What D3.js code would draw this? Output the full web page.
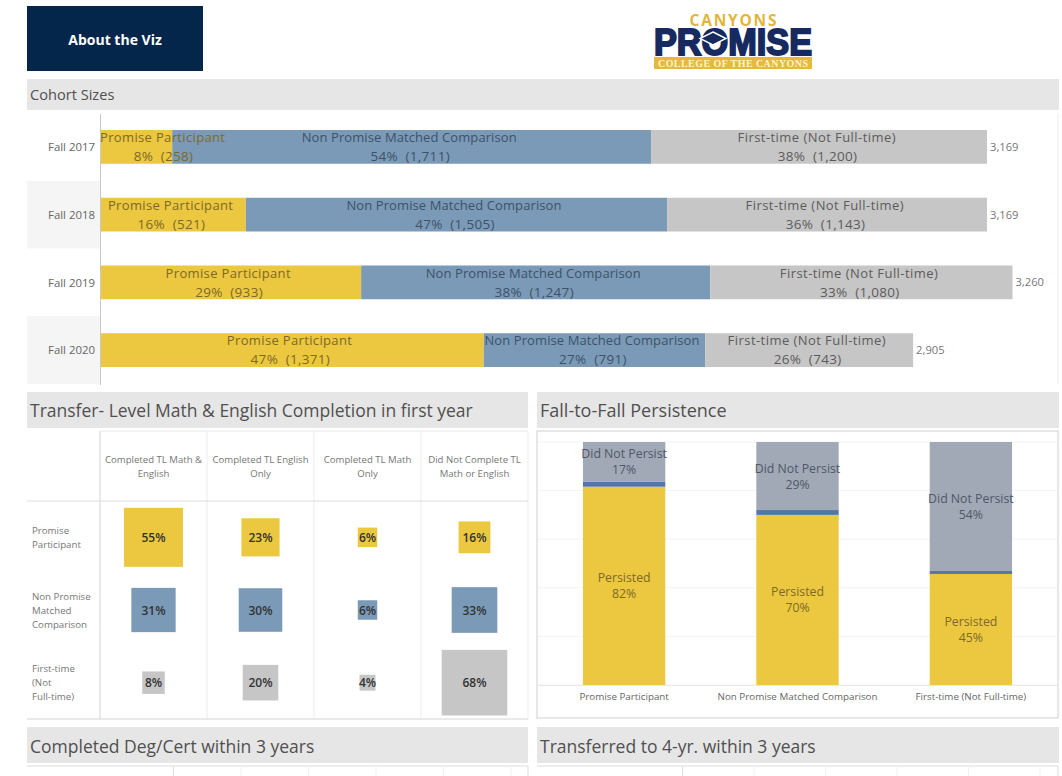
<!DOCTYPE html>
<html>
<head>
<meta charset="utf-8">
<script src="https://cdn.jsdelivr.net/npm/d3@7"></script>
<style>
html, body { margin: 0; padding: 0; background: #fff; overflow: hidden; }
svg { display: block; }
text { font-family: "Open Sans", sans-serif; white-space: pre; }
</style>
</head>
<body>
<svg id="viz" width="1062" height="776"></svg>
<script>
'use strict';

var cohortYears = ['Fall 2017', 'Fall 2018', 'Fall 2019', 'Fall 2020'];
var groups = ['Promise Participant', 'Non Promise Matched Comparison', 'First-time (Not Full-time)'];
var promiseCounts = [258, 521, 933, 1371];
var nonPromiseCounts = [1711, 1505, 1247, 791];
var firstTimeCounts = [1200, 1143, 1080, 743];
var promisePct = [8, 16, 29, 47];
var nonPromisePct = [54, 47, 38, 27];
var firstTimePct = [38, 36, 33, 26];

var tlCategories = [['Completed TL Math &', 'English'], ['Completed TL English', 'Only'], ['Completed TL Math', 'Only'], ['Did Not Complete TL', 'Math or English']];
var tlRowLabels = [['Promise', 'Participant'], ['Non Promise', 'Matched', 'Comparison'], ['First-time', '(Not', 'Full-time)']];
var tlPromise = [55, 23, 6, 16];
var tlNonPromise = [31, 30, 6, 33];
var tlFirstTime = [8, 20, 4, 68];

var persisted = [81.6, 70, 45.7];
var seam = [2, 2, 1.2];
var notPersisted = [16.4, 28, 53.1];
var persistedLabels = ['82%', '70%', '45%'];
var notPersistedLabels = ['17%', '29%', '54%'];
var persistTicks = [0, 20, 40, 60, 80, 100];

var YELLOW = '#ecc740', BLUE = '#7b9ab7', GRAY = '#c6c6c6', SLATE = '#a1a9b7', SEAM = '#5077a8';
var groupFill = [YELLOW, BLUE, GRAY];
var groupText = ['#7d6a25', '#3d5269', '#5c5c5c'];
var groupLabelWidth = [125, 215, 158];

var svg = d3.select('#viz');

function header(x, y, w, h, label, size, nudge) {
	svg.append('rect').attr('x', x).attr('y', y).attr('width', w).attr('height', h).attr('fill', '#e6e6e6');
	svg.append('text').attr('x', x + 3).attr('y', y + h / 2 + nudge).attr('dy', '0.36em')
		.attr('font-size', size).attr('fill', '#505050').text(label);
}

function frame(x, y, w, h, color) {
	svg.append('rect').attr('x', x).attr('y', y).attr('width', w).attr('height', h)
		.attr('fill', 'none').attr('stroke', color);
}

// top strip
svg.append('rect').attr('x', 27).attr('y', 6).attr('width', 176).attr('height', 65).attr('fill', '#03264a');
svg.append('text').attr('x', 115).attr('y', 40).attr('dy', '0.36em').attr('text-anchor', 'middle')
	.attr('font-size', 14).attr('font-weight', 700).attr('fill', '#fff').text('About the Viz');

// logo
var logo = svg.append('g');
logo.append('text').attr('x', 733).attr('y', 26).attr('text-anchor', 'middle').attr('font-size', 15.5)
	.attr('font-weight', 700).attr('fill', '#e2b63b').attr('textLength', 87).text('CANYONS');
logo.append('text').attr('x', 654).attr('y', 55).style('font-family', '"Liberation Sans"').attr('font-size', 37)
	.attr('font-weight', 700).attr('fill', '#172a5f').attr('stroke', '#172a5f').attr('stroke-width', 2)
	.attr('textLength', 158).attr('lengthAdjust', 'spacingAndGlyphs').text('PROMISE');
logo.append('polygon').attr('points', '713,32 726,38.5 713,45 700,38.5').attr('fill', '#172a5f').attr('stroke', '#fff').attr('stroke-width', 1.4);
logo.append('rect').attr('x', 654).attr('y', 57).attr('width', 158).attr('height', 12).attr('fill', '#e6b93c');
logo.append('text').attr('x', 733).attr('y', 66.5).attr('text-anchor', 'middle').style('font-family', '"Liberation Serif"')
	.attr('font-size', 10).attr('font-weight', 700).attr('fill', '#fdf3d0').attr('textLength', 150).text('COLLEGE OF THE CANYONS');

// cohort sizes
header(27, 79, 1032, 31, 'Cohort Sizes', 14.6, 0);

var cohortRows = cohortYears.map(function(year, i) {
	return {
		year: year,
		total: promiseCounts[i] + nonPromiseCounts[i] + firstTimeCounts[i],
		0: promiseCounts[i], 1: nonPromiseCounts[i], 2: firstTimeCounts[i],
		pct: [promisePct[i], nonPromisePct[i], firstTimePct[i]]
	};
});

var cohortX = d3.scaleLinear().domain([0, 3169]).range([100, 987]);
var cohortY = d3.scaleBand().domain(cohortYears).range([113, 384]).paddingInner(0);
var barInset = 17;
var cohortStack = d3.stack().keys([0, 1, 2])(cohortRows);

svg.selectAll('.rowShade').data(cohortYears.filter(function(d, i) { return i % 2 == 1; })).enter()
	.append('rect').attr('class', 'rowShade')
	.attr('x', 27).attr('width', 73)
	.attr('y', function(d) { return cohortY(d); })
	.attr('height', cohortY.bandwidth())
	.attr('fill', '#f5f5f5');

cohortStack.forEach(function(layer, g) {
	svg.selectAll('.seg' + g).data(layer).enter().append('rect').attr('class', 'seg' + g)
		.attr('x', function(d) { return cohortX(d[0]); })
		.attr('width', function(d) { return cohortX(d[1]) - cohortX(d[0]); })
		.attr('y', function(d) { return cohortY(d.data.year) + barInset; })
		.attr('height', cohortY.bandwidth() - barInset * 2)
		.attr('fill', groupFill[g]);
});

cohortStack.forEach(function(layer, g) {
	layer.forEach(function(d) {
		var mid = (cohortX(d[0]) + cohortX(d[1])) / 2;
		var cx = Math.max(mid - 2.5, cohortX(d[0]) + groupLabelWidth[g] / 2);
		var top = cohortY(d.data.year) + barInset;
		svg.append('text').attr('x', cx).attr('y', top + 12).attr('text-anchor', 'middle')
			.attr('font-size', 13).attr('fill', groupText[g]).attr('textLength', groupLabelWidth[g])
			.text(groups[g]);
		svg.append('text').attr('x', cx + 1).attr('y', top + 31).attr('text-anchor', 'middle')
			.attr('font-size', 13.5).attr('letter-spacing', 0.3).attr('fill', groupText[g])
			.text(d.data.pct[g] + '%  (' + d3.format(',')(d.data[g]) + ')');
	});
});

svg.selectAll('.total').data(cohortRows).enter().append('text').attr('class', 'total')
	.attr('x', function(d) { return cohortX(d.total) + 3; })
	.attr('y', function(d) { return cohortY(d.year) + cohortY.bandwidth() / 2; })
	.attr('dy', '0.36em').attr('font-size', 11.2).attr('fill', '#777')
	.text(function(d) { return d3.format(',')(d.total); });

var cohortAxis = svg.append('g').attr('transform', 'translate(100,0.5)')
	.call(d3.axisLeft(cohortY).tickSize(0).tickPadding(5));
cohortAxis.select('.domain').attr('stroke', '#c8c8c8');
cohortAxis.selectAll('text').attr('font-size', 11.4).attr('fill', '#666').style('font-family', '"Open Sans", sans-serif');

svg.append('line').attr('x1', 1058).attr('x2', 1058).attr('y1', 113).attr('y2', 384).attr('stroke', '#ececec');

// transfer level completion
header(27, 392, 501, 36, 'Transfer- Level Math & English Completion in first year', 17.5, 1);

var tlColumns = tlCategories.map(function(d) { return d.join(' '); });
var tlRowKeys = tlRowLabels.map(function(d) { return d.join(' '); });
var tlX = d3.scaleBand().domain(tlColumns).range([100, 528]);
var tlY = d3.scaleBand().domain(tlRowKeys).range([501, 719]);
var tlSize = d3.scaleSqrt().domain([0, 68]).range([0, 65.6]);
var tlCells = [];
[tlPromise, tlNonPromise, tlFirstTime].forEach(function(values, r) {
	values.forEach(function(v, c) {
		tlCells.push({ row: tlRowKeys[r], col: tlColumns[c], group: r, value: v });
	});
});

svg.append('g').selectAll('line').data(tlColumns.concat(['end'])).enter().append('line')
	.attr('x1', function(d, i) { return i < 4 ? tlX(d) : tlX.range()[1]; })
	.attr('x2', function(d, i) { return i < 4 ? tlX(d) : tlX.range()[1]; })
	.attr('y1', 431).attr('y2', 719)
	.attr('stroke', function(d, i) { return i == 0 ? '#d4d4d4' : '#ececec'; });
svg.append('line').attr('x1', 100).attr('x2', 528).attr('y1', 431).attr('y2', 431).attr('stroke', '#e8e8e8');
svg.append('line').attr('x1', 27).attr('x2', 528).attr('y1', 501).attr('y2', 501).attr('stroke', '#dcdcdc');
svg.append('line').attr('x1', 27).attr('x2', 528).attr('y1', 719).attr('y2', 719).attr('stroke', '#d4d4d4');

svg.selectAll('.tlCell').data(tlCells).enter().append('rect').attr('class', 'tlCell')
	.attr('x', function(d) { return tlX(d.col) + tlX.bandwidth() / 2 - tlSize(d.value) / 2; })
	.attr('y', function(d) { return tlY(d.row) + tlY.bandwidth() / 2 - tlSize(d.value) / 2; })
	.attr('width', function(d) { return tlSize(d.value); })
	.attr('height', function(d) { return tlSize(d.value); })
	.attr('fill', function(d) { return groupFill[d.group]; });

svg.selectAll('.tlValue').data(tlCells).enter().append('text').attr('class', 'tlValue')
	.attr('x', function(d) { return tlX(d.col) + tlX.bandwidth() / 2; })
	.attr('y', function(d) { return tlY(d.row) + tlY.bandwidth() / 2 + 0.5; })
	.attr('dy', '0.36em').attr('text-anchor', 'middle').attr('font-size', 12).attr('font-weight', 600).attr('fill', '#333')
	.text(function(d) { return d.value + '%'; });

tlCategories.forEach(function(lines, c) {
	var cx = tlX(tlColumns[c]) + tlX.bandwidth() / 2;
	lines.forEach(function(line, j) {
		svg.append('text').attr('x', cx).attr('y', 463 + j * 13.7).attr('text-anchor', 'middle')
			.attr('font-size', 9.6).attr('fill', '#777').text(line);
	});
});

tlRowLabels.forEach(function(lines, r) {
	var cy = tlY(tlRowKeys[r]) + tlY.bandwidth() / 2;
	lines.forEach(function(line, j) {
		svg.append('text').attr('x', 32).attr('y', cy + (j - (lines.length - 1) / 2) * 14 + 3.5)
			.attr('font-size', 9.7).attr('fill', '#777').text(line);
	});
});

// fall to fall persistence
header(537, 392, 522, 36, 'Fall-to-Fall Persistence', 18, 1);
frame(537, 431, 521, 287, '#cfcfcf');

var persistX = d3.scaleBand().domain(groups).range([537, 1058]).paddingInner(0.525).paddingOuter(0.265);
var persistY = d3.scaleLinear().domain([0, 100]).range([685, 442]);

svg.append('g').selectAll('line').data(persistTicks).enter().append('line')
	.attr('x1', 538).attr('x2', 1057)
	.attr('y1', function(d) { return persistY(d); })
	.attr('y2', function(d) { return persistY(d); })
	.attr('stroke', '#f3f3f3');

var persistRows = groups.map(function(g, i) {
	return { group: g, persisted: persisted[i], seam: seam[i], notPersisted: notPersisted[i], i: i };
});
var persistStack = d3.stack().keys(['persisted', 'seam', 'notPersisted'])(persistRows);
var persistFill = { persisted: YELLOW, seam: SEAM, notPersisted: SLATE };

persistStack.forEach(function(layer) {
	svg.selectAll('.p' + layer.key).data(layer).enter().append('rect').attr('class', 'p' + layer.key)
		.attr('x', function(d) { return persistX(d.data.group); })
		.attr('width', persistX.bandwidth())
		.attr('y', function(d) { return persistY(d[1]); })
		.attr('height', function(d) { return persistY(d[0]) - persistY(d[1]); })
		.attr('fill', persistFill[layer.key]);
});

function persistLabel(layer, title, labels, color) {
	layer.forEach(function(d) {
		var cx = persistX(d.data.group) + persistX.bandwidth() / 2;
		var cy = (persistY(d[0]) + persistY(d[1])) / 2;
		svg.append('text').attr('x', cx).attr('y', cy - 3.5).attr('text-anchor', 'middle')
			.attr('font-size', 12.3).attr('fill', color).text(title);
		svg.append('text').attr('x', cx).attr('y', cy + 12.5).attr('text-anchor', 'middle')
			.attr('font-size', 12.3).attr('fill', color).text(labels[d.data.i]);
	});
}
persistLabel(persistStack[0], 'Persisted', persistedLabels, '#7d6a25');
persistLabel(persistStack[2], 'Did Not Persist', notPersistedLabels, '#4f5868');

var persistAxis = svg.append('g').attr('transform', 'translate(0,685)')
	.call(d3.axisBottom(persistX).tickSize(0).tickPadding(8));
persistAxis.select('.domain').attr('stroke', '#e8e8e8');
persistAxis.selectAll('text').attr('font-size', 9.8).attr('fill', '#666').style('font-family', '"Open Sans", sans-serif');

// panels cut off by the bottom of the page
header(27, 727, 501, 36, 'Completed Deg/Cert within 3 years', 17.5, 2);
header(537, 727, 522, 36, 'Transferred to 4-yr. within 3 years', 17.5, 2);

function cutPanel(x0, x1, gridX) {
	svg.append('line').attr('x1', x0).attr('x2', x1).attr('y1', 766).attr('y2', 766).attr('stroke', '#dcdcdc');
	svg.append('line').attr('x1', x1).attr('x2', x1).attr('y1', 766).attr('y2', 776).attr('stroke', '#dcdcdc');
	svg.append('g').selectAll('line').data(gridX.ticks(5)).enter().append('line')
		.attr('x1', function(d) { return gridX(d); })
		.attr('x2', function(d) { return gridX(d); })
		.attr('y1', 766).attr('y2', 776)
		.attr('stroke', function(d, i) { return i == 0 ? '#dedede' : '#f1f1f1'; });
}
cutPanel(27, 528, d3.scaleLinear().domain([0, 5]).range([173.5, 511]));
cutPanel(537, 1058, d3.scaleLinear().domain([0, 5]).range([682.5, 1040]));
</script>
</body>
</html>
